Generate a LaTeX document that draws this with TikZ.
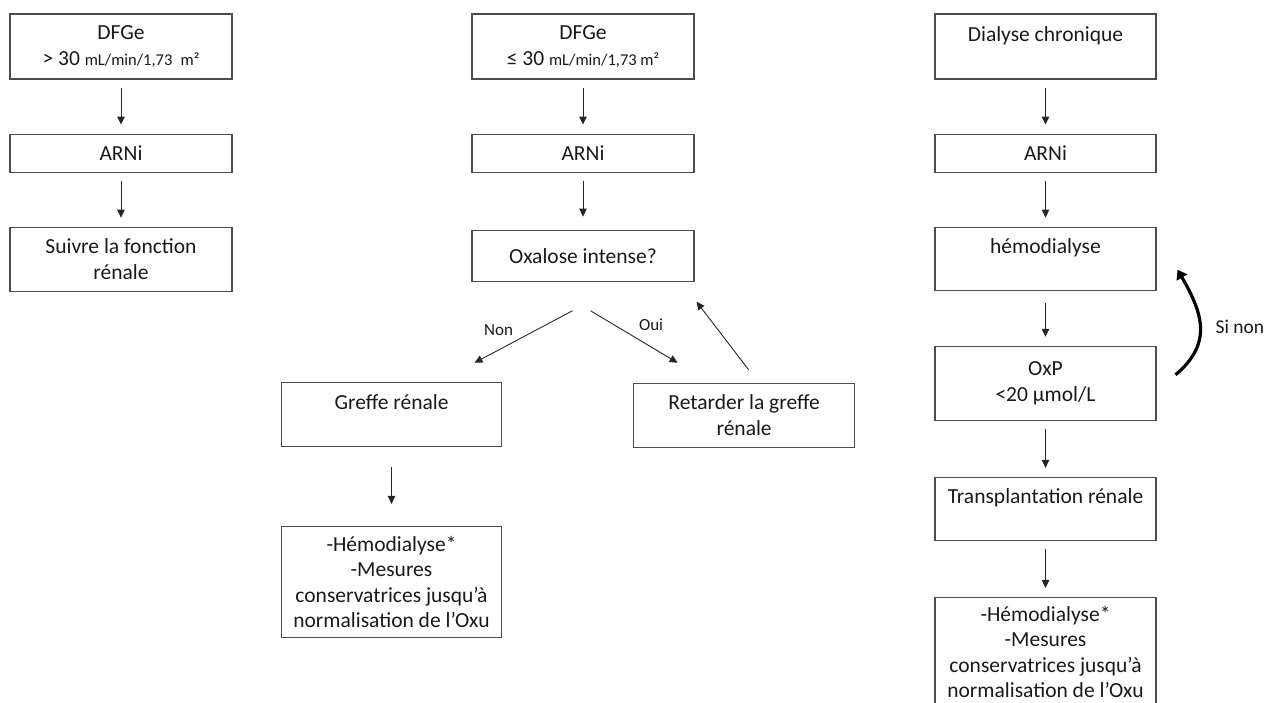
\documentclass[tikz,border=0pt]{standalone}
\usepackage{fontspec}
\setmainfont{Carlito}
\usetikzlibrary{arrows.meta, positioning}

\newcommand{\unitsz}[1]{{\fontsize{16.5}{20}\selectfont #1}}

\begin{document}
\begin{tikzpicture}[x=1pt, y=1pt, node distance=54pt,
  every node/.style={font=\fontsize{21.5}{25.5}\selectfont, text=black!90}]
\tikzstyle{box} = [rectangle, draw=black!70, line width=1.1pt, minimum width=222pt, minimum height=64pt, align=center, inner sep=2pt]
\tikzstyle{arrow} = [line width=0.9pt, draw=black!85, -{Triangle[width=7.5pt,length=8pt]}]
\tikzstyle{flow} = [arrow, shorten <=8pt, shorten >=9pt]
\tikzstyle{loopback} = [line width=3.2pt, draw=black, -{Triangle[width=12pt,length=9pt]}]
\tikzstyle{tag} = [font=\fontsize{17}{20}\selectfont, inner sep=0pt]

\useasboundingbox (0,0) rectangle (1269,-702);

% Column 1: DFGe > 30
\node (dfgA) [box, minimum height=65pt] at (121,-46.5) {DFGe\\ > 30 \unitsz{mL/min/1,73\enspace m²}};
\node (arnA) [box, minimum height=38pt, below=of dfgA] {ARNi};
\node (suivA) [box, below=of arnA] {Suivre la fonction\\ rénale};

% Column 2: DFGe <= 30
\node (dfgB) [box, minimum height=65pt] at (583,-46.5) {DFGe\\ ≤ 30 \unitsz{mL/min/1,73 m²}};
\node (arnB) [box, minimum height=38pt, below=of dfgB] {ARNi};
\node (oxal) [box, minimum height=51pt, below=57pt of arnB] {Oxalose intense?};
\node (greffe) [box, minimum width=220pt, below=100pt of oxal, xshift=-191.5pt] {Greffe rénale\\ \mbox{}};
\node (retard) [box, minimum width=221pt, right=131pt of greffe, yshift=-1pt] {Retarder la greffe\\ rénale};
\node (hemoB) [box, minimum width=220pt, minimum height=111pt, below=79pt of greffe] {-Hémodialyse*\\ -Mesures\\ conservatrices jusqu’à\\ normalisation de l’Oxu};

% Column 3: dialyse chronique
\node (dial) [box, minimum width=221pt, minimum height=65pt] at (1045.5,-46.5) {Dialyse chronique\\ \mbox{}};
\node (arnC) [box, minimum width=221pt, minimum height=38pt, below=of dial] {ARNi};
\node (hemo) [box, minimum width=221pt, minimum height=63pt, below=of arnC] {hémodialyse\\ \mbox{}};
\node (oxp) [box, minimum width=221pt, minimum height=74pt, below=55pt of hemo] {OxP\\ <20 µmol/L};
\node (transp) [box, minimum width=221pt, minimum height=63pt, below=56pt of oxp] {Transplantation rénale\\ \mbox{}};
\node (hemoC) [box, minimum width=221pt, minimum height=109pt, below=56pt of transp] {-Hémodialyse*\\ -Mesures\\ conservatrices jusqu’à\\ normalisation de l’Oxu};

% Arrows
\draw [flow] (dfgA) -- (arnA);
\draw [flow] (arnA) -- (suivA);
\draw [flow] (dfgB) -- (arnB);
\draw [flow, shorten >=13pt] (arnB) -- (oxal);
\draw [arrow] ([xshift=-10.5pt,yshift=-29pt]oxal.south) -- node[tag, xshift=-25pt, yshift=7pt] {Non} ([xshift=83pt,yshift=19pt]greffe.north);
\draw [arrow] ([xshift=7.5pt,yshift=-29pt]oxal.south) -- node[tag, xshift=17pt, yshift=12pt] {Oui} ([xshift=-66.5pt,yshift=20pt]retard.north);
\draw [arrow] ([xshift=4.5pt,yshift=13pt]retard.north) -- ([xshift=2pt,yshift=-20pt]oxal.south east);
\draw [flow, shorten <=20pt, shorten >=22pt] (greffe) -- (hemoB);
\draw [flow] (dial) -- (arnC);
\draw [flow] (arnC) -- (hemo);
\draw [flow, shorten <=12pt] (hemo) -- (oxp);
\draw [flow] (oxp) -- (transp);
\draw [flow] (transp) -- (hemoC);
\draw [loopback] ([xshift=19pt,yshift=-29pt]oxp.north east) to[out=40, in=-60, looseness=1.2] node[tag, font=\fontsize{19.5}{22}\selectfont, anchor=west, xshift=14pt] {Si non} ([xshift=21pt,yshift=21pt]hemo.south east);
\end{tikzpicture}
\end{document}
